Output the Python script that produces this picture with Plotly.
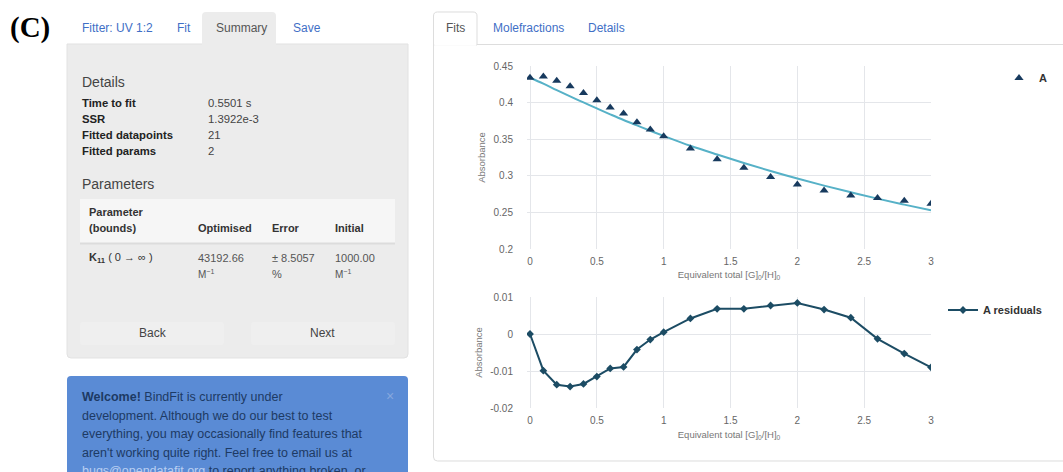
import plotly.graph_objects as go

W, H = 1063, 472

# ---------------- data ----------------
x_equiv = [0, 0.1, 0.2, 0.3, 0.4, 0.5, 0.6, 0.7, 0.8, 0.9, 1.0,
           1.2, 1.4, 1.6, 1.8, 2.0, 2.2, 2.4, 2.6, 2.8, 3.0]
a_observed = [0.434, 0.4355, 0.430, 0.4223, 0.4132, 0.4032, 0.3932, 0.385, 0.3732, 0.3632, 0.354,
              0.3372, 0.3227, 0.311, 0.2985, 0.288, 0.280, 0.2731, 0.2696, 0.2659, 0.2618]
a_fit = [0.4340, 0.4258, 0.4170, 0.4085, 0.4002, 0.3920, 0.3840, 0.3762, 0.3688, 0.3615, 0.3545,
         0.3410, 0.3290, 0.3175, 0.3065, 0.2962, 0.2866, 0.2775, 0.2688, 0.2606, 0.2528]
a_residuals = [0.0, -0.0099, -0.0137, -0.0142, -0.0135, -0.0115, -0.0093, -0.0089, -0.0042, -0.0015, 0.0005,
               0.0042, 0.0068, 0.0068, 0.0077, 0.0084, 0.0066, 0.0044, -0.0013, -0.0053, -0.0090]

x_tickvals = [0, 0.5, 1, 1.5, 2, 2.5, 3]
x_ticktext = ["0", "0.5", "1", "1.5", "2", "2.5", "3"]
fit_tickvals = [0.2, 0.25, 0.3, 0.35, 0.4, 0.45]
fit_ticktext = ["0.2", "0.25", "0.3", "0.35", "0.4", "0.45"]
res_tickvals = [-0.02, -0.01, 0, 0.01]
res_ticktext = ["-0.02", "-0.01", "0", "0.01"]

left_tabs = ["Fitter: UV 1:2", "Fit", "Summary", "Save"]
right_tabs = ["Fits", "Molefractions", "Details"]
detail_labels = ["Time to fit", "SSR", "Fitted datapoints", "Fitted params"]
detail_values = ["0.5501 s", "1.3922e-3", "21", "2"]
alert_lines = [
    "<b>Welcome!</b> BindFit is currently under",
    "development. Although we do our best to test",
    "everything, you may occasionally find features that",
    "aren't working quite right. Feel free to email us at",
    "<span style='color:#b9cff2'>bugs@opendatafit.org</span> to report anything broken, or",
]

# ---------------- helpers ----------------
def px(x):
    return x / W

def py(y):
    return 1 - y / H

FONT = "Liberation Sans, Arial, sans-serif"

def P(x, y):
    return f"{px(x):.5f},{py(y):.5f}"

def rrect_path(x0, y0, x1, y1, r=4, tl=True, tr=True, br=True, bl=True):
    s = f"M {P(x0 + (r if tl else 0), y0)} L {P(x1 - (r if tr else 0), y0)} "
    if tr:
        s += f"Q {P(x1, y0)} {P(x1, y0 + r)} "
    s += f"L {P(x1, y1 - (r if br else 0))} "
    if br:
        s += f"Q {P(x1, y1)} {P(x1 - r, y1)} "
    s += f"L {P(x0 + (r if bl else 0), y1)} "
    if bl:
        s += f"Q {P(x0, y1)} {P(x0, y1 - r)} "
    s += f"L {P(x0, y0 + (r if tl else 0))} "
    if tl:
        s += f"Q {P(x0, y0)} {P(x0 + r, y0)} "
    s += "Z"
    return s

shapes = []
annotations = []

def rr(x0, y0, x1, y1, fill, line="rgba(0,0,0,0)", lw=0, r=4, **kw):
    shapes.append(dict(type="path", xref="paper", yref="paper",
                       path=rrect_path(x0, y0, x1, y1, r, **kw),
                       fillcolor=fill, line=dict(color=line, width=lw), layer="below"))

def hline(x0, x1, y, color, w=1):
    shapes.append(dict(type="line", xref="paper", yref="paper",
                       x0=px(x0), x1=px(x1), y0=py(y), y1=py(y),
                       line=dict(color=color, width=w), layer="below"))

def txt(x, y, s, size=12, color="#333", anchor="left", family=FONT, bold=False):
    annotations.append(dict(xref="paper", yref="paper", x=px(x), y=py(y), text=s,
                            showarrow=False, xanchor=anchor, yanchor="middle",
                            font=dict(size=size, color=color, family=family,
                                      weight="bold" if bold else "normal")))

# ---------------- left panel ----------------
txt(8, 28, "(C)", size=29, color="#000", family="Liberation Serif, Times New Roman, serif", bold=True)

rr(67, 44, 408, 358, "#ececec", line="#e2e2e2", lw=1, r=4, tl=False, tr=False)
rr(202, 12, 276, 45, "#ececec", r=4, br=False, bl=False)
link_blue = "#3f6fc6"
tab_x = [80, 175, 214, 291]
for t, xx in zip(left_tabs, tab_x):
    txt(xx, 28, t, size=12, color="#555" if t == "Summary" else link_blue)

txt(80, 82, "Details", size=14, color="#444")
for i, (lab, val) in enumerate(zip(detail_labels, detail_values)):
    yy = 103 + 16 * i
    txt(80, yy, lab, size=11.3, color="#222", bold=True)
    txt(206, yy, val, size=11.3, color="#444")

txt(80, 184, "Parameters", size=14, color="#444")
rr(80, 199, 395, 243, "#f6f6f6", r=0)
hline(80, 395, 243.5, "#dcdcdc", 2)
txt(87, 212, "Parameter", size=11, color="#333", bold=True)
txt(87, 228, "(bounds)", size=11, color="#333", bold=True)
txt(196, 228, "Optimised", size=11, color="#333", bold=True)
txt(270, 228, "Error", size=11, color="#333", bold=True)
txt(333, 228, "Initial", size=11, color="#333", bold=True)
txt(87, 258, "<b>K<sub>11</sub></b> ( 0 → ∞ )", size=11, color="#333")
txt(196, 258, "43192.66", size=11, color="#555")
txt(196, 274, "M<sup>−1</sup>", size=10, color="#555")
txt(270, 258, "± 8.5057", size=11, color="#555")
txt(270, 274, "%", size=11, color="#555")
txt(333, 258, "1000.00", size=11, color="#555")
txt(333, 274, "M<sup>−1</sup>", size=10, color="#555")

rr(80, 322, 224, 345, "#efefef", r=3)
rr(251, 322, 395, 345, "#efefef", r=3)
txt(153, 333, "Back", size=12, color="#444", anchor="center")
txt(322, 333, "Next", size=12, color="#444", anchor="center")

rr(67, 376, 408, 472, "#5a8bd5", r=4, br=False, bl=False)
for i, line in enumerate(alert_lines):
    txt(80, 397 + 18.6 * i, line, size=12.5, color="#1d3a64")
txt(390, 396, "×", size=14, color="#86a8de", anchor="center")

# ---------------- right panel frame ----------------
shapes.append(dict(type="path", xref="paper", yref="paper", layer="below",
                   path=f"M {P(1063, 44.5)} L {P(433.5, 44.5)} L {P(433.5, 457)} "
                        f"Q {P(433.5, 461)} {P(437.5, 461)} L {P(1063, 461)}",
                   line=dict(color="#dddddd", width=1)))
rr(433.5, 12, 477, 45, "#ffffff", line="#dddddd", lw=1, r=4, br=False, bl=False)
hline(434.3, 476.2, 44.8, "#ffffff", 2)
txt(455, 28, right_tabs[0], size=12, color="#555", anchor="center")
txt(491, 28, right_tabs[1], size=12, color=link_blue)
txt(586, 28, right_tabs[2], size=12, color=link_blue)

# ---------------- charts ----------------
fig = go.Figure()
fig.add_trace(go.Scatter(x=x_equiv, y=a_fit, mode="lines", line=dict(color="#56b1c7", width=2, shape="spline"),
                         showlegend=False, xaxis="x", yaxis="y", hoverinfo="skip"))
fig.add_trace(go.Scatter(x=x_equiv, y=a_observed, mode="markers", name="A",
                         marker=dict(symbol="triangle-up", size=8, color="#173a5e"),
                         xaxis="x", yaxis="y", legend="legend"))
fig.add_trace(go.Scatter(x=x_equiv, y=a_residuals, mode="lines+markers", name="A residuals",
                         line=dict(color="#1c4c64", width=2),
                         marker=dict(symbol="diamond", size=6, color="#1c4c64"),
                         xaxis="x2", yaxis="y2", legend="legend2"))

grid = "#e4e6ea"
tickfont = dict(size=10, color="#666", family=FONT)
titlefont = dict(size=9.5, color="#777", family=FONT)
xdom = [px(527), px(931)]
xtitle = "Equivalent total [G]<sub>0</sub>/[H]<sub>0</sub>"
legfont = dict(size=11, color="#333", family=FONT, weight="bold")

common_x = dict(domain=xdom, range=[-0.0225, 3.0], tickvals=x_tickvals, ticktext=x_ticktext,
                showgrid=True, gridcolor=grid, gridwidth=1, zeroline=False, showline=False,
                tickfont=tickfont, ticks="", ticklabelstandoff=5, fixedrange=True, automargin=False)
common_y = dict(showgrid=True, gridcolor=grid, zeroline=False, showline=False, tickfont=tickfont, ticks="",
                ticklabelstandoff=13, automargin=False, fixedrange=True)
fig.update_layout(
    width=W, height=H, autosize=False,
    margin=dict(l=0, r=0, t=0, b=0, pad=0, autoexpand=False),
    paper_bgcolor="#ffffff", plot_bgcolor="rgba(0,0,0,0)",
    font=dict(family=FONT),
    shapes=shapes, annotations=annotations,
    xaxis=dict(**common_x, anchor="y",
               title=dict(text=xtitle, font=titlefont, standoff=5)),
    yaxis=dict(**common_y, domain=[py(249), py(66)], range=[0.2, 0.45],
               tickvals=fit_tickvals, ticktext=fit_ticktext,
               title=dict(text="Absorbance", font=titlefont, standoff=6)),
    xaxis2=dict(**common_x, anchor="y2",
                title=dict(text=xtitle, font=titlefont, standoff=6)),
    yaxis2=dict(**common_y, domain=[py(408), py(297)], range=[-0.02, 0.01],
                tickvals=res_tickvals, ticktext=res_ticktext,
                title=dict(text="Absorbance", font=titlefont, standoff=5)),
    legend=dict(x=px(999), y=py(78), xanchor="left", yanchor="middle", bgcolor="rgba(0,0,0,0)",
                font=legfont, itemwidth=30),
    legend2=dict(x=px(943), y=py(310), xanchor="left", yanchor="middle", bgcolor="rgba(0,0,0,0)",
                 font=legfont, itemwidth=30),
    hovermode=False,
)

post = ("document.documentElement.style.margin='0';document.body.style.margin='0';"
        "document.body.style.padding='0';document.documentElement.style.overflow='hidden';"
        "var gd=document.getElementById('{plot_id}');gd.style.position='absolute';"
        "gd.style.left='0px';gd.style.top='0px';")
fig.write_html("out.html", post_script=post, config={"displayModeBar": False})
